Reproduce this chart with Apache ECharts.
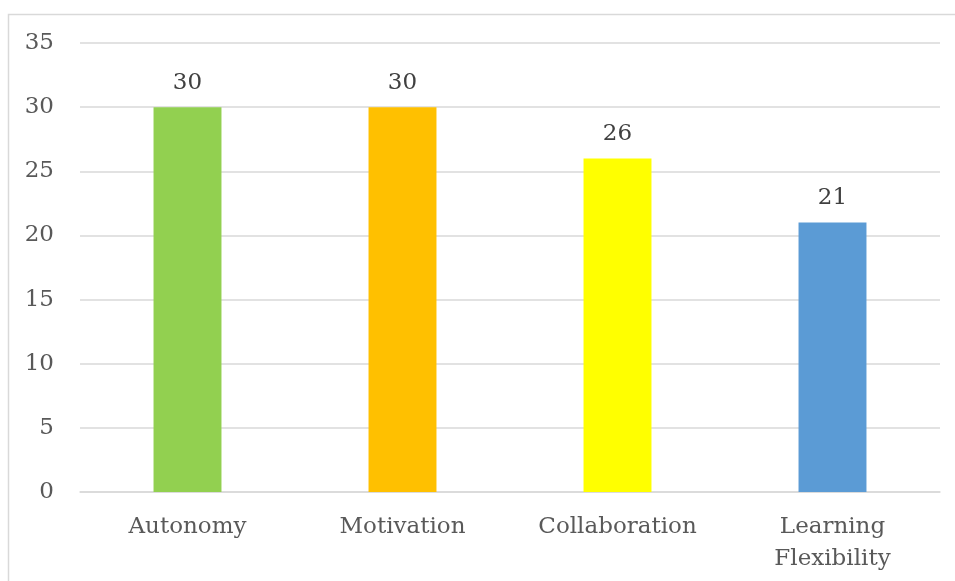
<!DOCTYPE html>
<html>
<head>
<meta charset="utf-8">
<script src="https://cdn.jsdelivr.net/npm/echarts@6/dist/echarts.min.js"></script>
<style>html,body{margin:0;padding:0;background:#fff}#c{width:955px;height:581px}</style>
</head>
<body>
<div id="c"></div>
<script>
const categories = ['Autonomy', 'Motivation', 'Collaboration', 'Learning\nFlexibility'];
const values = [30, 30, 26, 21];
const barColors = ['#92D050', '#FFC000', '#FFFF00', '#5B9BD5'];
const yTicks = { min: 0, max: 35, interval: 5 };

const font = 'DejaVu Serif';
const chart = echarts.init(document.getElementById('c'));
chart.setOption({
  animation: false,
  graphic: [{
    type: 'rect', shape: { x: 8.5, y: 14.5, width: 1200, height: 1200 },
    style: { fill: 'none', stroke: '#D9D9D9', lineWidth: 1.5 }, silent: true
  }],
  grid: { left: 80, right: 15, top: 43, bottom: 89 },
  xAxis: {
    type: 'category', data: categories,
    axisLine: { lineStyle: { color: '#D9D9D9', width: 1.5 } },
    axisTick: { show: false },
    axisLabel: { color: '#595959', fontFamily: font, fontSize: 23, margin: 19, lineHeight: 32 }
  },
  yAxis: {
    type: 'value', min: yTicks.min, max: yTicks.max, interval: yTicks.interval,
    axisLine: { show: false }, axisTick: { show: false },
    splitLine: { lineStyle: { color: '#D9D9D9', width: 1.5 } },
    axisLabel: { color: '#595959', fontFamily: font, fontSize: 23, margin: 26 }
  },
  series: [{
    type: 'bar', barWidth: '31.6%',
    data: values.map((v, i) => ({ value: v, itemStyle: { color: barColors[i] } })),
    label: { show: true, position: 'top', distance: 13, color: '#404040', fontFamily: font, fontSize: 23 }
  }]
});
</script>
</body>
</html>
